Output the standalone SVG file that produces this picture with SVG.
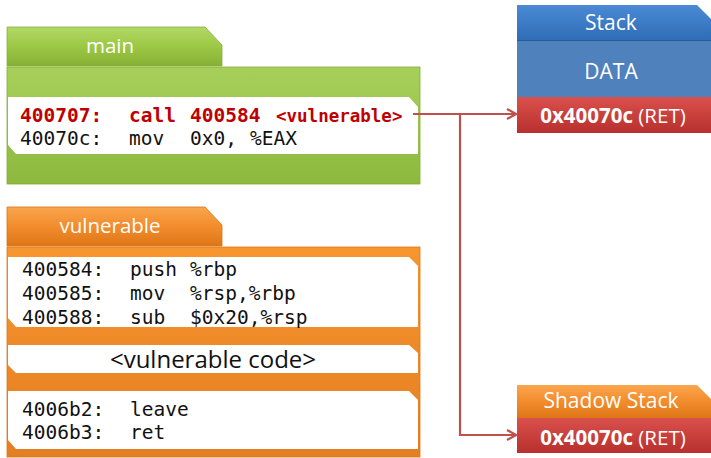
<svg xmlns="http://www.w3.org/2000/svg" width="711" height="458" viewBox="0 0 711 458">
<defs>
<linearGradient id="gTab" x1="0" y1="0" x2="0" y2="1"><stop offset="0" stop-color="#B2D865"/><stop offset="0.5" stop-color="#9CC845"/><stop offset="1" stop-color="#86B034"/></linearGradient>
<linearGradient id="gBody" x1="0" y1="0" x2="0" y2="1"><stop offset="0" stop-color="#A7D05A"/><stop offset="1" stop-color="#8DB93E"/></linearGradient>
<linearGradient id="oTab" x1="0" y1="0" x2="0" y2="1"><stop offset="0" stop-color="#FAA54E"/><stop offset="0.5" stop-color="#F28C2C"/><stop offset="1" stop-color="#DE7618"/></linearGradient>
<linearGradient id="oBody" x1="0" y1="0" x2="0" y2="1"><stop offset="0" stop-color="#F7962F"/><stop offset="1" stop-color="#E47E22"/></linearGradient>
<linearGradient id="bTab" x1="0" y1="0" x2="0" y2="1"><stop offset="0" stop-color="#4A8AD6"/><stop offset="1" stop-color="#2F6DB5"/></linearGradient>
<linearGradient id="rBox" x1="0" y1="0" x2="0" y2="1"><stop offset="0" stop-color="#D9504C"/><stop offset="1" stop-color="#B8302D"/></linearGradient>
<marker id="arr" markerWidth="12" markerHeight="12" refX="10" refY="6" orient="auto" markerUnits="userSpaceOnUse"><path d="M1,1 L10,6 L1,11" fill="none" stroke="#C0504D" stroke-width="2.2"/></marker>
</defs>
<style>
.code{font-family:"DejaVu Sans Mono","Liberation Mono",monospace;font-size:19.5px;fill:#111}
.red{fill:#C00000;font-weight:bold}
.sans{font-family:"Open Sans","Noto Sans","Liberation Sans",sans-serif;fill:#fff}
.band{fill:#fff}
.conn{fill:none;stroke:#C0504D;stroke-width:2.2}
</style>

<g id="main">
<path d="M7,27 H205 L222,45 V66 H7 Z" fill="url(#gTab)" stroke="#8AB040" stroke-width="0.8"/>
<text x="110" y="53" class="sans" font-size="20.5" text-anchor="middle">main</text>
<rect x="7" y="67" width="413" height="117" fill="url(#gBody)" stroke="#84AC38" stroke-width="0.8"/>
<path d="M8,97 H409 L418,107 V154 H16 L8,145 Z" class="band"/>
<text y="122" class="code red"><tspan x="20">400707:</tspan><tspan x="129">call</tspan><tspan x="190">400584</tspan><tspan x="276" font-size="17.5">&lt;vulnerable&gt;</tspan></text>
<text y="145" class="code"><tspan x="20">40070c:</tspan><tspan x="129">mov</tspan><tspan x="190">0x0,</tspan><tspan x="250">%EAX</tspan></text>
</g>

<g id="vulnerable">
<path d="M7,207 H205 L222,225 V246 H7 Z" fill="url(#oTab)" stroke="#D87416" stroke-width="0.8"/>
<text x="110" y="233" class="sans" font-size="20.5" text-anchor="middle">vulnerable</text>
<rect x="7" y="247" width="413" height="210" fill="url(#oBody)" stroke="#D97818" stroke-width="0.8"/>
<path d="M8,257 H409 L418,266 V327 H16 L8,318 Z" class="band"/>
<path d="M8,345 H409 L418,353 V373 H16 L8,365 Z" class="band"/>
<path d="M8,391 H409 L418,400 V449 H16 L8,440 Z" class="band"/>
<text y="276" class="code"><tspan x="22">400584:</tspan><tspan x="130">push</tspan><tspan x="190">%rbp</tspan></text>
<text y="300" class="code"><tspan x="22">400585:</tspan><tspan x="130">mov</tspan><tspan x="190">%rsp,%rbp</tspan></text>
<text y="324" class="code"><tspan x="22">400588:</tspan><tspan x="130">sub</tspan><tspan x="190">$0x20,%rsp</tspan></text>
<text x="213" y="368" font-family="Open Sans,Noto Sans,Liberation Sans,sans-serif" font-size="24" fill="#111" text-anchor="middle">&lt;vulnerable code&gt;</text>
<text y="416" class="code"><tspan x="22">4006b2:</tspan><tspan x="130">leave</tspan></text>
<text y="439" class="code"><tspan x="22">4006b3:</tspan><tspan x="130">ret</tspan></text>
</g>

<g id="stack">
<path d="M517,5 H697 L711,19 V40 H517 Z" fill="url(#bTab)"/>
<rect x="517" y="40" width="194" height="57" fill="#4F81BD"/>
<line x1="517" y1="40.5" x2="711" y2="40.5" stroke="#2A5A95" stroke-width="1"/>
<rect x="517" y="97" width="194" height="36" fill="url(#rBox)"/>
<text x="611" y="30" class="sans" font-size="21" text-anchor="middle">Stack</text>
<text x="611" y="79" class="sans" font-size="21" text-anchor="middle">DATA</text>
<text x="613" y="123" class="sans" font-size="20.5" text-anchor="middle"><tspan font-weight="bold">0x40070c</tspan> (RET)</text>
</g>

<g id="shadow">
<path d="M517,385 H697 L711,399 V418 H517 Z" fill="url(#oTab)"/>
<rect x="517" y="418" width="194" height="35" fill="url(#rBox)"/>
<text x="611" y="408" class="sans" font-size="21" text-anchor="middle">Shadow Stack</text>
<text x="613" y="445" class="sans" font-size="20.5" text-anchor="middle"><tspan font-weight="bold">0x40070c</tspan> (RET)</text>
</g>

<g id="connectors">
<path d="M413,114 H516" class="conn" marker-end="url(#arr)"/>
<path d="M460,114 V435 H516" class="conn" marker-end="url(#arr)"/>
</g>
</svg>
